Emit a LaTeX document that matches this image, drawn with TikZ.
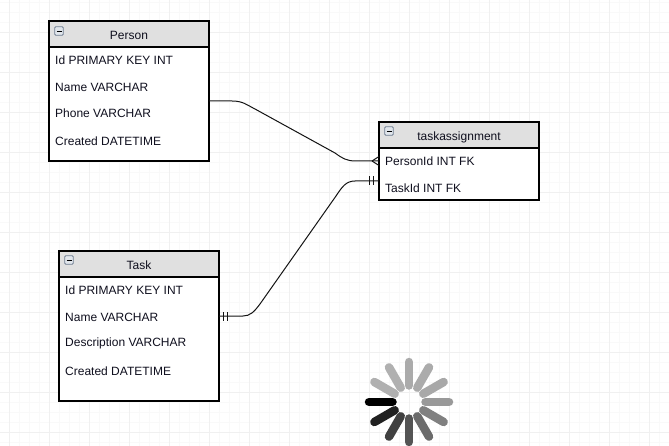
\documentclass[tikz,border=0pt]{standalone}
\usepackage{fontspec}
\setmainfont{Liberation Sans}
\usetikzlibrary{positioning}
\definecolor{erBorder}{RGB}{0, 0, 0}
\definecolor{erHead}{RGB}{224, 224, 224}
\definecolor{erText}{RGB}{15, 15, 30}
\definecolor{erLine}{RGB}{20, 20, 20}
\definecolor{gridMinor}{RGB}{249, 249, 249}
\definecolor{gridMajor}{RGB}{240, 240, 240}
\definecolor{iconEdge}{RGB}{110, 125, 145}
\definecolor{iconFill}{RGB}{225, 230, 236}
\tikzset{
  tablehead/.style={draw=erBorder, fill=erHead, line width=2.2pt, minimum width=160pt, minimum height=25.5pt, outer sep=0pt, inner sep=0pt, text=erText, text height=10.6pt, text depth=0pt, font=\fontsize{12}{14}\selectfont},
  tablebody/.style={draw=erBorder, fill=white, line width=2.2pt, minimum width=160pt, outer sep=0pt, inner sep=0pt},
  rowtext/.style={anchor=west, inner sep=0pt, text=erText, font=\fontsize{12}{14}\selectfont},
  minusicon/.style={draw=iconEdge, fill=iconFill, line width=0.8pt, rounded corners=1pt, minimum size=8.5pt, inner sep=0pt, outer sep=0pt, path picture={\draw[black, line width=0.9pt] ([xshift=-2.5pt]path picture bounding box.center) -- ([xshift=2.5pt]path picture bounding box.center);}},
  relation/.style={erLine, line width=1pt},
  spoke/.style={line width=8.5pt, line cap=round}
}
\begin{document}
\begin{tikzpicture}[x=1pt, y=-1pt]
  \useasboundingbox (0,0) rectangle (669,446);
  \fill[white] (0,0) rectangle (669,446);
  % grid
  \foreach \gx in {-1,9,...,669} \draw[gridMinor, line width=0.8pt] (\gx,0) -- (\gx,446);
  \foreach \gy in {2,12,...,446} \draw[gridMinor, line width=0.8pt] (0,\gy) -- (669,\gy);
  \foreach \gx in {9,49,...,669} \draw[gridMajor, line width=0.8pt] (\gx,0) -- (\gx,446);
  \foreach \gy in {32,72,...,446} \draw[gridMajor, line width=0.8pt] (0,\gy) -- (669,\gy);

  % Person
  \node[tablebody, minimum height=114pt] (personbody) at (129,104) {};
  \node[tablehead] (personhead) at (129,34) {Person};
  \node[minusicon] (personicon) at (59,31) {};
  \node[rowtext] (personid) at (55,60.5) {Id PRIMARY KEY INT};
  \node[rowtext] (personname) at (55,87) {Name VARCHAR};
  \node[rowtext] (personphone) at (55,113) {Phone VARCHAR};
  \node[rowtext] (personcreated) at (55,141) {Created DATETIME};

  % Task
  \node[tablebody, minimum height=124pt] (taskbody) at (139,339) {};
  \node[tablehead] (taskhead) at (139,264) {Task};
  \node[minusicon] (taskicon) at (69,260) {};
  \node[rowtext] (taskid) at (65,290.5) {Id PRIMARY KEY INT};
  \node[rowtext] (taskname) at (65,317) {Name VARCHAR};
  \node[rowtext] (taskdesc) at (65,343) {Description VARCHAR};
  \node[rowtext] (taskcreated) at (65,371) {Created DATETIME};

  % taskassignment
  \node[tablebody, minimum height=52pt] (assignbody) at (459,174) {};
  \node[tablehead] (assignhead) at (459,135) {taskassignment};
  \node[minusicon] (assignicon) at (389,131) {};
  \node[rowtext] (assignperson) at (385,161.5) {PersonId INT FK};
  \node[rowtext] (assigntask) at (385,188) {TaskId INT FK};

  % connectors
  \draw[relation] ([yshift=3pt]personbody.east) -- ++(23,0) .. controls +(11,0) and +(-8,-4) .. (255,109) -- (335,153) .. controls (342,158) and (346,161) .. (356,161) -- (assignbody.west |- 0,161);
  \draw[relation] (372,161) -- (assignbody.west |- 0,156.5);
  \draw[relation] (372,161) -- (assignbody.west |- 0,165.5);
  \draw[relation] (taskbody.east |- 0,316) -- (243,316) .. controls (250,316) and (254,312) .. (260,304) -- (336,196) .. controls (342,187) and (346,181) .. (355,181) -- (assignbody.west |- 0,181);
  \draw[relation] (369,176.5) -- (369,185);
  \draw[relation] (373,176.5) -- (373,185);
  \draw[relation] (223,312) -- (223,320.5);
  \draw[relation] (227,312) -- (227,320.5);

  % spinner
  \foreach \ang/\shade in {180/0,150/13,120/25,90/33,60/42,30/50,0/60,330/66,300/67,270/67,240/69,210/69} {
    \draw[spoke, black!\the\numexpr100-\shade\relax] (409,402) ++(\ang:16.5) -- ++(\ang:23.5);
  }
\end{tikzpicture}
\end{document}
